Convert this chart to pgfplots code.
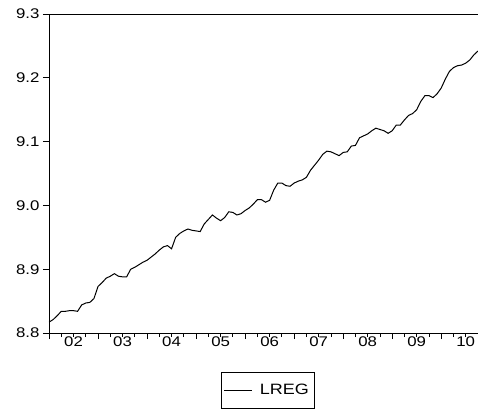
\documentclass[border=0pt]{standalone}
\usepackage{fontspec}
\setmainfont{Liberation Sans}[FakeStretch=1.2]
\usepackage{pgfplots}
\pgfplotsset{compat=1.18}
\pgfplotstableread{
i v
0 8.817
1 8.821
2 8.827
3 8.834
4 8.834
5 8.835
6 8.835
7 8.834
8 8.844
9 8.847
10 8.848
11 8.854
12 8.873
13 8.879
14 8.886
15 8.889
16 8.893
17 8.889
18 8.888
19 8.888
20 8.900
21 8.903
22 8.907
23 8.911
24 8.914
25 8.919
26 8.924
27 8.930
28 8.935
29 8.937
30 8.932
31 8.950
32 8.956
33 8.960
34 8.963
35 8.961
36 8.960
37 8.959
38 8.971
39 8.978
40 8.985
41 8.980
42 8.976
43 8.981
44 8.990
45 8.989
46 8.985
47 8.987
48 8.992
49 8.996
50 9.002
51 9.009
52 9.009
53 9.005
54 9.008
55 9.024
56 9.035
57 9.035
58 9.031
59 9.030
60 9.035
61 9.038
62 9.040
63 9.044
64 9.055
65 9.063
66 9.071
67 9.080
68 9.085
69 9.084
70 9.081
71 9.078
72 9.083
73 9.084
74 9.093
75 9.094
76 9.106
77 9.109
78 9.112
79 9.117
80 9.121
81 9.119
82 9.117
83 9.113
84 9.117
85 9.126
86 9.126
87 9.134
88 9.141
89 9.144
90 9.150
91 9.163
92 9.172
93 9.172
94 9.169
95 9.175
96 9.184
97 9.198
98 9.210
99 9.216
100 9.219
101 9.220
102 9.223
103 9.228
104 9.236
105 9.242
}\lreg
\begin{document}
\begin{tikzpicture}
\useasboundingbox (-49bp,-78bp) rectangle (429bp,333bp);
\begin{axis}[
  scale only axis, width=429bp, height=319bp,
  xmin=0, xmax=105, ymin=8.8, ymax=9.3,
  axis x line=box, axis y line=left,
  axis line style={-, line width=0.9bp},
  xtick pos=bottom, ytick pos=left,
  tick align=outside,
  major tick length=6bp, minor tick length=4bp,
  every tick/.style={black, line width=0.8bp},
  xtick={0,12,24,36,48,60,72,84,96},
  xticklabels={},
  minor xtick={3,6,9,15,18,21,27,30,33,39,42,45,51,54,57,63,66,69,75,78,81,87,90,93,99,102,105},
  extra x ticks={6,18,30,42,54,66,78,90,102},
  extra x tick labels={02,03,04,05,06,07,08,09,10},
  extra x tick style={major tick length=0pt, tick style={draw=none}},
  ytick={8.8,8.9,9.0,9.1,9.2,9.3},
  yticklabels={8.8,8.9,9.0,9.1,9.2,9.3},
  tick label style={font=\fontsize{14bp}{16bp}\selectfont, black},
  legend style={at={(axis description cs:0.5093,-0.1223)}, anchor=north, draw=black, line width=0.8bp,
    font=\fontsize{15bp}{18bp}\selectfont, inner xsep=3bp, inner ysep=10bp},
  legend image code/.code={\draw[#1] (0bp,0bp) -- (28bp,0bp); \path (33bp,0bp);},
]
\addplot[black, line width=1bp] table[x=i, y=v] {\lreg};
\addlegendentry{LREG}
\end{axis}
\end{tikzpicture}
\end{document}
